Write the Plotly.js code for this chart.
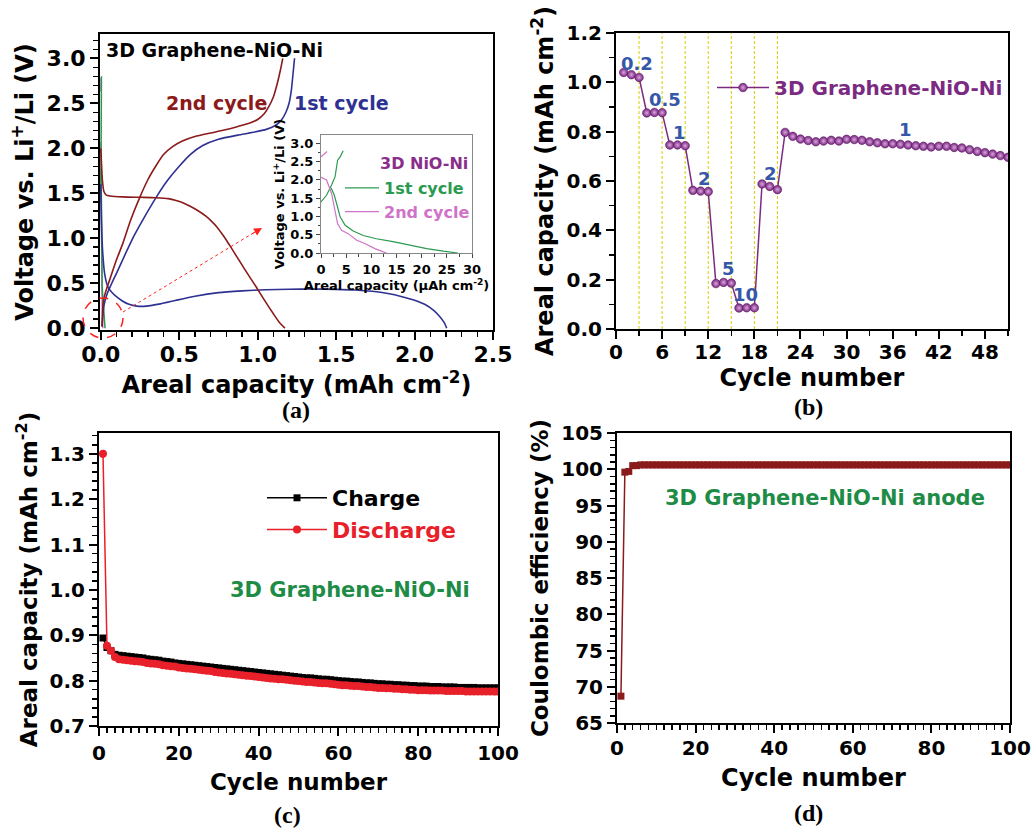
<!DOCTYPE html>
<html><head><meta charset="utf-8">
<script src="https://cdn.plot.ly/plotly-3.0.1.min.js"></script>
<style>html,body{margin:0;padding:0;background:#fff}#chart{width:1033px;height:828px}</style>
</head><body><div id="chart"></div>
<script>
// ---------- Panel (a): voltage profiles, 3D Graphene-NiO-Ni (mAh cm-2, V) ----------
const cap1Dis = [0, 0.004, 0.012, 0.025, 0.045, 0.07, 0.1, 0.14, 0.18, 0.23, 0.29, 0.38, 0.48, 0.6, 0.75, 0.9, 1.05, 1.2, 1.35, 1.5, 1.62, 1.73, 1.83, 1.92, 2.0, 2.07, 2.12, 2.16, 2.19, 2.205];
const v1Dis   = [1.6, 1.2, 0.85, 0.6, 0.46, 0.4, 0.35, 0.3, 0.265, 0.245, 0.245, 0.27, 0.31, 0.355, 0.395, 0.415, 0.428, 0.433, 0.435, 0.432, 0.425, 0.41, 0.385, 0.35, 0.31, 0.26, 0.2, 0.13, 0.06, 0.0];
const cap1Chg = [0.008, 0.02, 0.04, 0.07, 0.1, 0.15, 0.21, 0.28, 0.355, 0.42, 0.5, 0.57, 0.65, 0.75, 0.885, 0.98, 1.055, 1.11, 1.15, 1.18, 1.2, 1.215, 1.225, 1.235];
const v1Chg   = [0.02, 0.25, 0.38, 0.5, 0.61, 0.8, 1.02, 1.24, 1.46, 1.63, 1.8, 1.93, 2.03, 2.1, 2.15, 2.18, 2.21, 2.25, 2.31, 2.4, 2.5, 2.65, 2.82, 3.0];
const cap2Dis = [0, 0.004, 0.01, 0.02, 0.035, 0.06, 0.14, 0.25, 0.35, 0.43, 0.48, 0.53, 0.57, 0.62, 0.67, 0.705, 0.74, 0.77, 0.8, 0.84, 0.885, 0.93, 0.99, 1.04, 1.1, 1.14, 1.174];
const v2Dis   = [2.0, 1.85, 1.65, 1.52, 1.48, 1.47, 1.46, 1.455, 1.45, 1.44, 1.42, 1.39, 1.355, 1.305, 1.245, 1.19, 1.125, 1.055, 0.98, 0.87, 0.745, 0.62, 0.46, 0.32, 0.16, 0.06, 0.0];
const cap2Chg = [0.008, 0.015, 0.03, 0.057, 0.1, 0.14, 0.19, 0.25, 0.3, 0.35, 0.4, 0.46, 0.52, 0.6, 0.7, 0.78, 0.87, 0.95, 1.0, 1.04, 1.07, 1.1, 1.125, 1.145, 1.16];
const v2Chg   = [0.02, 0.28, 0.4, 0.54, 0.76, 0.94, 1.2, 1.46, 1.65, 1.8, 1.93, 2.02, 2.08, 2.13, 2.17, 2.2, 2.24, 2.28, 2.32, 2.38, 2.46, 2.57, 2.72, 2.87, 3.0];

// ---------- Inset: 3D NiO-Ni (µAh cm-2, V) ----------
const nio1ChgCap = [0, 1.1, 2.1, 2.8, 3.3, 3.8, 4.4];
const nio1ChgV   = [1.40, 1.58, 1.86, 2.09, 2.54, 2.63, 2.8];
const nio1DisCap = [2.0, 2.6, 3.2, 3.8, 4.8, 6.4, 8.4, 11.0, 14.3, 17.6, 21.0, 24.3, 27.2];
const nio1DisV   = [1.78, 1.6, 1.3, 0.99, 0.76, 0.6, 0.48, 0.39, 0.31, 0.21, 0.12, 0.05, 0.0];
const nio2ChgCap = [0, 1.2];
const nio2ChgV   = [2.63, 2.78];
const nio2DisCap = [0, 1.1, 2.1, 2.8, 3.3, 4.1, 5.4, 7.1, 8.7, 10.7, 13.0];
const nio2DisV   = [2.07, 2.0, 1.63, 1.17, 0.8, 0.62, 0.53, 0.35, 0.26, 0.12, 0.0];

// ---------- Panel (b): rate capability ----------
const rateCycles = [1,2,3,4,5,6,7,8,9,10,11,12,13,14,15,16,17,18,19,20,21,22,23,24,25,26,27,28,29,30,31,32,33,34,35,36,37,38,39,40,41,42,43,44,45,46,47,48,49,50,51];
const rateCap = [1.040, 1.031, 1.020, 0.876, 0.878, 0.877, 0.746, 0.746, 0.743, 0.562, 0.559, 0.557, 0.184, 0.189, 0.186, 0.085, 0.086, 0.086, 0.588, 0.578, 0.565, 0.797, 0.781, 0.770, 0.764, 0.759, 0.762, 0.765, 0.762, 0.769, 0.768, 0.765, 0.759, 0.755, 0.751, 0.751, 0.749, 0.746, 0.743, 0.741, 0.738, 0.741, 0.741, 0.736, 0.734, 0.727, 0.720, 0.715, 0.709, 0.703, 0.696];
const rateLabels = ['0.2', '0.5', '1', '2', '5', '10', '2', '1'];
const rateLabelCycle = [2.7, 6.4, 8.2, 11.5, 14.65, 16.9, 20.1, 37.6];
const rateLabelCap = [1.078, 0.93, 0.795, 0.612, 0.247, 0.139, 0.632, 0.808];
const rateBoundaries = [3, 6, 9, 12, 15, 18, 21];

// ---------- Panels (c) and (d): long cycling ----------
const cycles = [1,2,3,4,5,6,7,8,9,10,11,12,13,14,15,16,17,18,19,20,21,22,23,24,25,26,27,28,29,30,31,32,33,34,35,36,37,38,39,40,41,42,43,44,45,46,47,48,49,50,51,52,53,54,55,56,57,58,59,60,61,62,63,64,65,66,67,68,69,70,71,72,73,74,75,76,77,78,79,80,81,82,83,84,85,86,87,88,89,90,91,92,93,94,95,96,97,98,99,100];
const chargeCap = [0.894,0.873,0.866,0.858,0.856,0.855,0.854,0.853,0.852,0.851,0.850,0.848,0.847,0.846,0.845,0.843,0.842,0.841,0.839,0.838,0.837,0.836,0.835,0.834,0.833,0.832,0.831,0.830,0.829,0.828,0.827,0.826,0.825,0.824,0.823,0.822,0.821,0.820,0.819,0.818,0.817,0.816,0.815,0.814,0.813,0.812,0.811,0.810,0.809,0.808,0.807,0.806,0.806,0.805,0.804,0.803,0.803,0.802,0.801,0.800,0.799,0.799,0.798,0.797,0.797,0.796,0.795,0.795,0.794,0.793,0.793,0.792,0.792,0.791,0.791,0.790,0.790,0.789,0.789,0.788,0.788,0.788,0.787,0.787,0.787,0.786,0.786,0.786,0.786,0.785,0.785,0.785,0.785,0.785,0.784,0.784,0.784,0.784,0.784,0.784];
const dischargeCap = [1.300,0.877,0.866,0.852,0.847,0.846,0.845,0.844,0.843,0.842,0.841,0.839,0.838,0.837,0.836,0.834,0.833,0.832,0.831,0.829,0.828,0.827,0.826,0.825,0.824,0.823,0.822,0.821,0.819,0.818,0.817,0.816,0.815,0.814,0.813,0.812,0.811,0.810,0.809,0.808,0.807,0.806,0.805,0.804,0.803,0.803,0.802,0.801,0.800,0.799,0.798,0.797,0.797,0.796,0.795,0.794,0.794,0.793,0.792,0.791,0.790,0.790,0.789,0.788,0.788,0.787,0.786,0.786,0.785,0.784,0.784,0.783,0.783,0.782,0.782,0.781,0.781,0.780,0.780,0.779,0.779,0.779,0.778,0.778,0.778,0.778,0.777,0.777,0.777,0.777,0.777,0.776,0.776,0.776,0.776,0.776,0.776,0.776,0.776,0.776];
const coulombicEff = [68.7,99.6,99.7,100.5,100.5,100.6,100.6,100.6,100.6,100.6,100.6,100.6,100.6,100.6,100.6,100.6,100.6,100.6,100.6,100.6,100.6,100.6,100.6,100.6,100.6,100.6,100.6,100.6,100.6,100.6,100.6,100.6,100.6,100.6,100.6,100.6,100.6,100.6,100.6,100.6,100.6,100.6,100.6,100.6,100.6,100.6,100.6,100.6,100.6,100.6,100.6,100.6,100.6,100.6,100.6,100.6,100.6,100.6,100.6,100.6,100.6,100.6,100.6,100.6,100.6,100.6,100.6,100.6,100.6,100.6,100.6,100.6,100.6,100.6,100.6,100.6,100.6,100.6,100.6,100.6,100.6,100.6,100.6,100.6,100.6,100.6,100.6,100.6,100.6,100.6,100.6,100.6,100.6,100.6,100.6,100.6,100.6,100.6,100.6,100.6];

// ---------- styling ----------
const W = 1033, H = 828;
const px = x => x / W, py = y => 1 - y / H;
const FONT = 'DejaVu Sans, Liberation Sans, Arial, sans-serif';
const SERIF = 'Liberation Serif, Times New Roman, serif';
const C = {
  darkRed: '#8b1a1a', blue: '#2e3192', green: '#2a9a50', pink: '#d073c8',
  purple: '#8b2d8b', bPurple: '#7b2a82', numBlue: '#3557a8', cGreen: '#1e8c46',
  red: '#e8202a', yellow: '#d8cc00'
};
const join = (xa, ya, xb, yb, k) => ({
  x: xa.map(v => v / k).concat([null], xb.map(v => v / k)),
  y: ya.concat([null], yb)
});

function axis(extra) {
  const base = {
    showline: true, linecolor: '#000', linewidth: 2, mirror: true,
    ticks: 'outside', ticklen: 8, tickwidth: 2, tickcolor: '#000',
    showgrid: false, zeroline: false, fixedrange: true, automargin: false,
    tickfont: {family: FONT, size: 20, color: '#000', weight: 'bold'}
  };
  const o = Object.assign(base, extra);
  if (o.minor) o.minor = Object.assign({ticks: 'outside', ticklen: 5, tickwidth: 1.5, tickcolor: '#000', showgrid: false}, o.minor);
  return o;
}
function ttl(text, size, standoff) {
  return {text: text, font: {family: FONT, size: size, color: '#000', weight: 'bold'}, standoff: standoff};
}

const ja = join(cap1Dis, v1Dis, cap1Chg, v1Chg, 1);
const jb = join(cap2Dis, v2Dis, cap2Chg, v2Chg, 1);
const jn1 = join(nio1DisCap, nio1DisV, nio1ChgCap, nio1ChgV, 1);
const jn2 = join(nio2DisCap, nio2DisV, nio2ChgCap, nio2ChgV, 1);
const jn1m = join(nio1DisCap, nio1DisV, nio1ChgCap, nio1ChgV, 1000);
const jn2m = join(nio2DisCap, nio2DisV, nio2ChgCap, nio2ChgV, 1000);

const traces = [
  // panel a main
  {x: jn2m.x, y: jn2m.y, xaxis: 'x', yaxis: 'y', mode: 'lines', line: {color: C.pink, width: 1.5}, showlegend: false},
  {x: jn1m.x, y: jn1m.y, xaxis: 'x', yaxis: 'y', mode: 'lines', line: {color: C.green, width: 1.5}, showlegend: false},
  {x: ja.x, y: ja.y, xaxis: 'x', yaxis: 'y', mode: 'lines', line: {color: C.blue, width: 1.6, shape: 'spline', smoothing: 0.6}, showlegend: false, name: '1st cycle'},
  {x: jb.x, y: jb.y, xaxis: 'x', yaxis: 'y', mode: 'lines', line: {color: C.darkRed, width: 1.6, shape: 'spline', smoothing: 0.6}, showlegend: false, name: '2nd cycle'},
  // inset
  {x: jn1.x, y: jn1.y, xaxis: 'x2', yaxis: 'y2', mode: 'lines', line: {color: C.green, width: 1.2}, legend: 'legend3',
   name: '<span style="color:' + C.green + '">1st cycle</span>'},
  {x: jn2.x, y: jn2.y, xaxis: 'x2', yaxis: 'y2', mode: 'lines', line: {color: C.pink, width: 1.2}, legend: 'legend3',
   name: '<span style="color:' + C.pink + '">2nd cycle</span>'},
  // panel b
  {x: rateCycles, y: rateCap, xaxis: 'x3', yaxis: 'y3', mode: 'lines+markers', legend: 'legend2',
   name: '<span style="color:' + C.bPurple + '">3D Graphene-NiO-Ni</span>',
   line: {color: C.bPurple, width: 1.5},
   marker: {symbol: 'circle', size: 8.5, color: '#7a2582', gradient: {type: 'radial', color: '#d9a6dc'}, line: {width: 0.6, color: '#5a1a60'}}},
  // panel c
  {x: cycles, y: chargeCap, xaxis: 'x4', yaxis: 'y4', mode: 'lines+markers', legend: 'legend', name: 'Charge',
   line: {color: '#000', width: 1.5}, marker: {symbol: 'square', size: 7, color: '#000'}},
  {x: cycles, y: dischargeCap, xaxis: 'x4', yaxis: 'y4', mode: 'lines+markers', legend: 'legend',
   name: '<span style="color:' + C.red + '">Discharge</span>',
   line: {color: C.red, width: 1.5}, marker: {symbol: 'circle', size: 8, color: C.red}},
  // panel d
  {x: cycles, y: coulombicEff, xaxis: 'x5', yaxis: 'y5', mode: 'lines+markers', showlegend: false, name: 'CE',
   line: {color: C.darkRed, width: 1.5}, marker: {symbol: 'square', size: 7, color: C.darkRed}}
];

const layout = {
  width: W, height: H, margin: {l: 0, r: 0, t: 0, b: 0},
  paper_bgcolor: '#fff', plot_bgcolor: 'rgba(0,0,0,0)',
  font: {family: FONT, color: '#000'},
  xaxis: axis({domain: [px(100), px(493)], anchor: 'y', range: [-0.005, 2.5], dtick: 0.5, tick0: 0, tickformat: '.1f',
    ticklabelstandoff: -4,
    tickfont: {family: FONT, size: 22, color: '#000', weight: 'bold'}, minor: {dtick: 0.1},
    title: ttl('Areal capacity (mAh cm<sup>-2</sup>)', 24, 0)}),
  yaxis: axis({domain: [py(330), py(34)], anchor: 'x', range: [-0.02, 3.27], dtick: 0.5, tick0: 0, tickformat: '.1f',
    tickfont: {family: FONT, size: 22, color: '#000', weight: 'bold'}, minor: {dtick: 0.1},
    title: ttl('Voltage vs. Li<sup>+</sup>/Li (V)', 24, 6)}),
  xaxis2: axis({domain: [px(321), px(472)], anchor: 'y2', range: [0, 30], dtick: 5, linecolor: '#888', linewidth: 1,
    ticklen: 4, tickwidth: 1, tickcolor: '#444', tickfont: {family: FONT, size: 13, color: '#000', weight: 'bold'},
    minor: {dtick: 2.5, ticklen: 2.5, tickwidth: 1, tickcolor: '#444'},
    title: ttl('Areal capacity (\u00b5Ah cm<sup>-2</sup>)', 13, 2)}),
  yaxis2: axis({domain: [py(253), py(135)], anchor: 'x2', range: [0, 3.23], dtick: 0.5, tickformat: '.1f', linecolor: '#888', linewidth: 1,
    ticklen: 4, tickwidth: 1, tickcolor: '#444', tickfont: {family: FONT, size: 13, color: '#000', weight: 'bold'},
    minor: {dtick: 0.25, ticklen: 2.5, tickwidth: 1, tickcolor: '#444'},
    title: ttl('Voltage vs. Li<sup>+</sup>/Li (V)', 13, 2)}),
  xaxis3: axis({domain: [px(616), px(1008)], anchor: 'y3', range: [0, 51], dtick: 6, tick0: 0, minor: {dtick: 3},
    ticklabelstandoff: -4,
    title: ttl('Cycle number', 24, 6)}),
  yaxis3: axis({domain: [py(329), py(33)], anchor: 'x3', range: [0, 1.2], dtick: 0.2, tickformat: '.1f', minor: {dtick: 0.1},
    title: ttl('Areal capacity (mAh cm<sup>-2</sup>)', 24, 6)}),
  xaxis4: axis({domain: [px(99), px(498)], anchor: 'y4', range: [0, 100], dtick: 20, minor: {dtick: 2},
    title: ttl('Cycle number', 23, 10)}),
  yaxis4: axis({domain: [py(726), py(433)], anchor: 'x4', range: [0.7, 1.346], dtick: 0.1, tick0: 0.7, tickformat: '.1f', minor: {dtick: 0.02},
    title: ttl('Areal capacity (mAh cm<sup>-2</sup>)', 23, 6)}),
  xaxis5: axis({domain: [px(617), px(1010)], anchor: 'y5', range: [0, 100], dtick: 20, minor: {dtick: 2},
    ticklabelstandoff: -2,
    title: ttl('Cycle number', 24, 10)}),
  yaxis5: axis({domain: [py(723), py(433)], anchor: 'x5', range: [65, 105], dtick: 5, tick0: 65, minor: {dtick: 1},
    title: ttl('Coulombic efficiency (%)', 23, 6)}),
  legend: {x: px(262), y: py(477), xanchor: 'left', yanchor: 'top', bgcolor: 'rgba(0,0,0,0)', itemwidth: 60,
    font: {family: FONT, size: 22, color: '#000', weight: 'bold'}, tracegroupgap: 0},
  legend2: {x: px(712), y: py(68), xanchor: 'left', yanchor: 'top', bgcolor: 'rgba(0,0,0,0)', itemwidth: 52,
    font: {family: FONT, size: 20, color: C.bPurple, weight: 'bold'}},
  legend3: {x: px(340), y: py(171), xanchor: 'left', yanchor: 'top', bgcolor: 'rgba(0,0,0,0)', itemwidth: 34,
    font: {family: FONT, size: 16, color: '#000', weight: 'bold'}},
  shapes: [],
  annotations: []
};

const ann = layout.annotations, shp = layout.shapes;
function txt(text, x, y, size, color, xanchor, family) {
  ann.push({text: text, x: px(x), y: py(y), xref: 'paper', yref: 'paper', showarrow: false, xanchor: xanchor || 'center', yanchor: 'middle',
    font: {family: family || FONT, size: size, color: color, weight: 'bold'}});
}
txt('3D Graphene-NiO-Ni', 104, 50, 19, '#000', 'left');
txt('2nd cycle', 216, 103, 19, C.darkRed);
txt('1st cycle', 341, 103, 19, C.blue);
txt('3D NiO-Ni', 378, 163, 16, C.purple, 'left');
txt('(a)', 296, 410, 24, '#000', 'center', SERIF);
txt('(b)', 808, 407, 24, '#000', 'center', SERIF);
txt('(c)', 287, 815, 24, '#000', 'center', SERIF);
txt('(d)', 808, 813, 24, '#000', 'center', SERIF);
txt('3D Graphene-NiO-Ni', 228, 590, 21, C.cGreen, 'left');
txt('3D Graphene-NiO-Ni anode', 663, 498, 21, C.cGreen, 'left');
rateLabels.forEach((t, i) => ann.push({text: t, x: rateLabelCycle[i], y: rateLabelCap[i], xref: 'x3', yref: 'y3', showarrow: false,
  font: {family: FONT, size: 18, color: C.numBlue, weight: 'bold'}}));
rateBoundaries.forEach(c => shp.push({type: 'line', xref: 'x3', yref: 'y3 domain', x0: c, x1: c, y0: 0, y1: 1, layer: 'below',
  line: {color: C.yellow, width: 1, dash: '3px,2px'}}));
// red dashed zoom circle and dotted arrow (panel a)
shp.push({type: 'circle', xref: 'paper', yref: 'paper', x0: px(83), x1: px(123), y0: py(338), y1: py(298),
  line: {color: '#ff2020', width: 1.5, dash: 'dash'}});
shp.push({type: 'line', xref: 'paper', yref: 'paper', x0: px(123), y0: py(312), x1: px(255), y1: py(232),
  line: {color: '#ff2020', width: 1, dash: 'dot'}});
ann.push({text: '', x: px(262), y: py(228), xref: 'paper', yref: 'paper', showarrow: true, ax: -12, ay: 7,
  arrowhead: 2, arrowsize: 1.6, arrowwidth: 1, arrowcolor: '#ff2020'});
// inset white background
shp.push({type: 'rect', xref: 'paper', yref: 'paper', x0: px(321), x1: px(472), y0: py(253), y1: py(135), layer: 'below',
  fillcolor: '#fff', line: {width: 0}});

Plotly.newPlot('chart', traces, layout, {displayModeBar: false, staticPlot: true});
</script>
</body></html>
